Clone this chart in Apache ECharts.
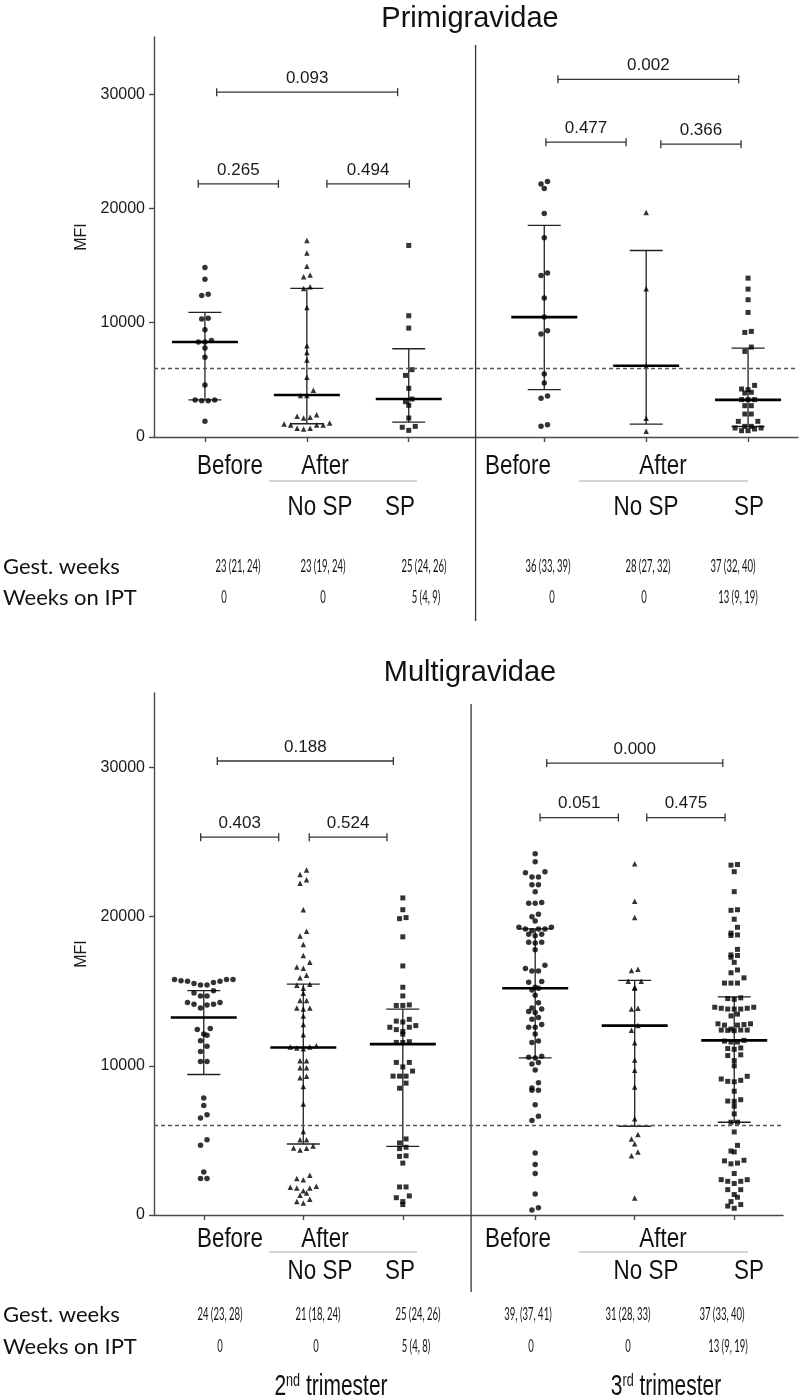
<!DOCTYPE html>
<html><head><meta charset="utf-8">
<script src="https://cdn.jsdelivr.net/npm/echarts@6/dist/echarts.min.js"></script>
<style>html,body{margin:0;padding:0;background:#fff}#c{width:800px;height:1400px}</style>
</head><body><div id="c"></div>
<script>
// ---------------- DATA ----------------
const GROUP_X = [1, 2, 3, 4.33, 5.33, 6.33];
const Y_TICKS = [0, 10000, 20000, 30000];
const THRESHOLD = 6000;

// Primigravidae (MFI values)
const primi_2nd_before = [14840, 13800, 12500, 12390, 10380, 10320, 9390, 8450, 8310, 8310, 7780, 6970, 4550, 3240, 3240, 3180, 3180, 1370];
const primi_2nd_nosp = [17200, 16090, 14950, 14170, 14020, 13150, 13000, 11340, 7990, 7400, 6730, 5220, 4080, 3640, 3640, 1950, 1810, 1720, 1660, 1220, 1140, 1050, 1050, 1050, 760, 760, 700];
const primi_2nd_sp = [16760, 10610, 9530, 5890, 5390, 4260, 3320, 3090, 2770, 1660, 930, 850, 580];
const primi_3rd_before = [22360, 22130, 21750, 19560, 17430, 14340, 14140, 12160, 10490, 9300, 9010, 5510, 4720, 3590, 3380, 1080, 930];
const primi_3rd_nosp = [19650, 12970, 6180, 1630, 500];
const primi_3rd_sp = [13900, 12940, 12010, 10900, 9240, 9150, 7870, 7490, 4520, 4200, 4140, 3910, 3850, 3270, 3270, 3270, 2740, 2740, 2010, 2010, 1370, 1370, 930, 930, 790, 790, 700, 550, 550];
const primi_median = [8310, 3670, 3320, 10490, 6240, 3250];
const primi_upper = [10900, 13000, 7720, 18510, 16320, 7780];
const primi_lower = [3240, 1160, 1300, 4140, 1120, 920];
const primi_br_x1 = [1.115, 0.934, 2.197, 4.464, 4.346, 5.474];
const primi_br_x2 = [2.891, 1.721, 3.006, 6.238, 5.133, 6.261];
const primi_br_y = [30170, 22150, 22150, 31300, 25800, 25620];
const primi_br_p = ['0.093', '0.265', '0.494', '0.002', '0.477', '0.366'];
const primi_gest = ['23 (21, 24)', '23 (19, 24)', '25 (24, 26)', '36 (33, 39)', '28 (27, 32)', '37 (32, 40)'];
const primi_ipt = ['0', '0', '5 (4, 9)', '0', '0', '13 (9, 19)'];

// Multigravidae (MFI values)
const multi_2nd_before = [15790, 15790, 15790, 15700, 15670, 15670, 15590, 15520, 15420, 15420, 15030, 14880, 14690, 14690, 14250, 14250, 14130, 14130, 14080, 13880, 12500, 12440, 12130, 12060, 11690, 11320, 10960, 10300, 10300, 7850, 7340, 6730, 6510, 5050, 4670, 2880, 2440, 2440];
const multi_2nd_nosp = [23130, 22830, 22480, 22250, 20470, 19020, 18710, 18140, 17400, 16940, 16630, 16540, 16080, 15900, 15480, 15400, 15200, 14860, 14390, 14390, 13880, 13880, 13810, 13350, 12770, 12080, 11340, 11270, 11270, 11200, 11150, 10350, 10350, 9880, 9880, 9300, 9200, 8610, 7450, 5600, 5050, 5050, 4630, 4500, 4480, 4350, 2660, 2440, 2370, 1930, 1860, 1810, 1810, 1630, 1480, 1320, 1050, 900, 800];
const multi_2nd_sp = [21260, 20470, 19940, 19870, 18650, 16700, 15270, 14690, 14090, 14050, 14050, 13120, 13000, 12940, 12700, 12590, 12590, 12430, 12310, 12130, 11620, 11570, 11570, 10230, 10230, 9930, 9650, 9310, 9310, 9310, 8840, 8500, 5100, 4830, 4540, 4450, 3970, 3930, 3480, 1880, 1880, 1280, 1160, 900, 700];
const multi_3rd_before = [24220, 23690, 23020, 22950, 22670, 22670, 22140, 22140, 21680, 20960, 20910, 20910, 20170, 19990, 19710, 19290, 19290, 19180, 19180, 19180, 19060, 18830, 18830, 18720, 18280, 18280, 18240, 17790, 16750, 16520, 16360, 16360, 15660, 15600, 15270, 15200, 15090, 14740, 14230, 13880, 13810, 13650, 13580, 13240, 13120, 12770, 12590, 12590, 12130, 11660, 11570, 10650, 10580, 10530, 10230, 10120, 9720, 8870, 8520, 8360, 8360, 7400, 6620, 6330, 4160, 3380, 2780, 1410, 480, 330];
const multi_3rd_nosp = [23550, 21030, 19940, 16470, 16400, 15670, 15670, 15270, 15200, 13860, 13810, 12700, 12380, 11550, 10390, 9700, 8590, 6460, 5390, 5100, 4780, 4220, 3980, 1140];
const multi_3rd_sp = [23500, 23460, 23020, 21680, 20470, 20430, 19830, 19290, 18900, 18780, 18740, 17810, 17440, 17400, 17280, 16940, 16430, 16240, 15900, 15550, 15550, 15550, 14560, 14510, 14460, 13930, 13930, 13860, 13860, 13810, 13810, 13810, 13470, 13350, 12820, 12820, 12770, 12730, 12730, 12470, 12400, 12400, 12400, 12380, 12360, 11710, 11660, 11600, 11600, 11200, 11160, 11110, 10740, 10690, 10350, 10000, 9300, 9120, 9030, 8960, 8930, 8300, 7730, 7640, 7620, 7290, 6780, 6220, 6220, 5570, 4670, 4290, 4230, 3670, 3630, 3480, 3430, 2780, 2370, 2370, 2260, 2260, 2110, 1700, 1700, 1370, 1190, 900, 700, 600, 450];
const multi_median = [13240, 11230, 11460, 15200, 12700, 11710];
const multi_upper = [15040, 15480, 13810, 19180, 15730, 14620];
const multi_lower = [9420, 4760, 4600, 10530, 5950, 6220];
const multi_br_x1 = [1.136, 0.969, 2.060, 4.446, 4.379, 5.451];
const multi_br_x2 = [2.905, 1.753, 2.841, 6.215, 5.166, 6.238];
const multi_br_y = [30440, 25330, 25330, 30300, 26650, 26650];
const multi_br_p = ['0.188', '0.403', '0.524', '0.000', '0.051', '0.475'];
const multi_gest = ['24 (23, 28)', '21 (18, 24)', '25 (24, 26)', '39, (37, 41)', '31 (28, 33)', '37 (33, 40)'];
const multi_ipt = ['0', '0', '5 (4, 8)', '0', '0', '13 (9, 19)'];

const TITLES = ['Primigravidae', 'Multigravidae'];
const ROW_LABELS = ['Gest. weeks', 'Weeks on IPT'];
const WHEN_LABELS = ['Before', 'After'];
const ARM_LABELS = ['No SP', 'SP'];
const TRIMESTERS = [['2', 'nd'], ['3', 'rd']];
const Y_NAME = 'MFI';

// ---------------- LAYOUT / STYLE ----------------
const X_MIN = 0.5, X_MAX = 6.82, Y_MAX = 35000;
const ARIAL = '"Liberation Sans", Arial, sans-serif';
const CALI = 'Lato, "Open Sans", sans-serif';
const SYMBOLS = ['circle', 'triangle', 'rect'];
const SYMBOL_SIZE = [5.5, 5.5, 5];
const GAP_PX = 6.5, ROW_PX = 6;

const PANELS = [
  { grid: {left: 154, top: 37, width: 644, height: 400},
    sets: [primi_2nd_before, primi_2nd_nosp, primi_2nd_sp, primi_3rd_before, primi_3rd_nosp, primi_3rd_sp],
    median: primi_median, upper: primi_upper, lower: primi_lower,
    br: [primi_br_x1, primi_br_x2, primi_br_y, primi_br_p],
    gest: primi_gest, ipt: primi_ipt,
    divX: 3.656, divTop: 8, divBottom: 184,
    titleY: 19, lab1Y: 467, lineY: 481, lab2Y: 508, gestY: 567, iptY: 598,
    gestX: [238, 323, 424, 548, 648, 733], iptX: [224, 323, 426, 552, 644, 738] },
  { grid: {left: 154, top: 693, width: 629, height: 522},
    sets: [multi_2nd_before, multi_2nd_nosp, multi_2nd_sp, multi_3rd_before, multi_3rd_nosp, multi_3rd_sp],
    median: multi_median, upper: multi_upper, lower: multi_lower,
    br: [multi_br_x1, multi_br_x2, multi_br_y, multi_br_p],
    gest: multi_gest, ipt: multi_ipt,
    divX: 3.686, divTop: 11, divBottom: 77,
    titleY: 673, lab1Y: 1240, lineY: 1252, lab2Y: 1272, gestY: 1315, iptY: 1347,
    gestX: [220, 318, 418, 528, 628, 722], iptX: [220, 316, 416, 531, 628, 728] }
];

// Prism-like scatter: rows of close values spread symmetrically
function swarm(values, gx, pxPerVal, pxPerX) {
  const sorted = values.slice().sort((a, b) => b - a);
  const rows = []; let cur = null;
  sorted.forEach(v => {
    if (cur && (cur.top - v) * pxPerVal < ROW_PX) cur.vals.push(v);
    else { cur = {top: v, vals: [v]}; rows.push(cur); }
  });
  const out = [];
  rows.forEach(r => {
    const vals = r.vals.slice().sort((a, b) => a - b);
    const n = vals.length, slots = [];
    for (let i = 0; i < n; i++) slots.push(i - (n - 1) / 2);
    slots.sort((a, b) => Math.abs(a) - Math.abs(b) || a - b);
    vals.forEach((v, i) => out.push([gx + slots[i] * GAP_PX / pxPerX, v]));
  });
  return out;
}

const grids = [], xAxes = [], yAxes = [], series = [], graphics = [];
const AXIS_COLOR = '#4a4a4a';

PANELS.forEach((P, pi) => {
  grids.push(P.grid);
  const pxPerVal = P.grid.height / Y_MAX;
  const pxPerX = P.grid.width / (X_MAX - X_MIN);
  xAxes.push({
    type: 'value', gridIndex: pi, min: X_MIN, max: X_MAX,
    axisLine: {show: true, onZero: false, lineStyle: {color: AXIS_COLOR, width: 1.4}},
    axisTick: {show: true, customValues: GROUP_X, length: 5, lineStyle: {color: AXIS_COLOR, width: 1.4}},
    axisLabel: {show: false}, splitLine: {show: false}
  });
  yAxes.push({
    type: 'value', gridIndex: pi, min: 0, max: Y_MAX, interval: 10000,
    name: Y_NAME, nameLocation: 'middle', nameGap: 57,
    nameTextStyle: {fontSize: 16, fontFamily: ARIAL, color: '#1a1a1a'},
    axisLine: {show: true, lineStyle: {color: AXIS_COLOR, width: 1.4}},
    axisTick: {show: true, customValues: Y_TICKS, length: 5, lineStyle: {color: AXIS_COLOR, width: 1.4}},
    axisLabel: {customValues: Y_TICKS, fontSize: 16, fontFamily: ARIAL, color: '#1a1a1a', margin: 9,
      formatter: v => String(v)},
    splitLine: {show: false}
  });

  // scatter points
  P.sets.forEach((vals, gi) => {
    const s = {
      type: 'scatter', xAxisIndex: pi, yAxisIndex: pi, z: 4,
      symbol: SYMBOLS[gi % 3], symbolSize: SYMBOL_SIZE[gi % 3],
      itemStyle: {color: '#000'}, silent: true,
      data: swarm(vals, GROUP_X[gi], pxPerVal, pxPerX)
    };
    if (gi === 0) {
      s.markLine = {silent: true, symbol: 'none', label: {show: false},
        lineStyle: {type: [4, 3], color: '#555', width: 1.3}, data: [{yAxis: THRESHOLD}]};
    }
    series.push(s);
  });

  // median + error bars
  series.push({
    type: 'custom', xAxisIndex: pi, yAxisIndex: pi, z: 3, silent: true,
    data: GROUP_X.map((x, i) => [x, P.median[i], P.lower[i], P.upper[i]]),
    renderItem: (params, api) => {
      const x = api.value(0);
      const pm = api.coord([x, api.value(1)]);
      const pl = api.coord([x, api.value(2)]);
      const pu = api.coord([x, api.value(3)]);
      const thin = {stroke: '#222', lineWidth: 1.3};
      return {type: 'group', children: [
        {type: 'line', shape: {x1: pl[0], y1: pl[1], x2: pu[0], y2: pu[1]}, style: thin},
        {type: 'line', shape: {x1: pl[0] - 16.5, y1: pl[1], x2: pl[0] + 16.5, y2: pl[1]}, style: thin},
        {type: 'line', shape: {x1: pu[0] - 16.5, y1: pu[1], x2: pu[0] + 16.5, y2: pu[1]}, style: thin},
        {type: 'line', shape: {x1: pm[0] - 33, y1: pm[1], x2: pm[0] + 33, y2: pm[1]}, style: {stroke: '#000', lineWidth: 2.6}}
      ]};
    }
  });

  // significance brackets
  const [bx1, bx2, by, bp] = P.br;
  series.push({
    type: 'custom', xAxisIndex: pi, yAxisIndex: pi, z: 3, silent: true,
    data: bx1.map((_, i) => [bx1[i], by[i], bx2[i]]),
    renderItem: (params, api) => {
      const a = api.coord([api.value(0), api.value(1)]);
      const b = api.coord([api.value(2), api.value(1)]);
      const st = {stroke: '#333', lineWidth: 1.3};
      return {type: 'group', children: [
        {type: 'line', shape: {x1: a[0], y1: a[1], x2: b[0], y2: b[1]}, style: st},
        {type: 'line', shape: {x1: a[0], y1: a[1] - 4, x2: a[0], y2: a[1] + 4}, style: st},
        {type: 'line', shape: {x1: b[0], y1: b[1] - 4, x2: b[0], y2: b[1] + 4}, style: st},
        {type: 'text', style: {text: bp[params.dataIndex], x: (a[0] + b[0]) / 2, y: a[1] - 14,
          textAlign: 'center', textVerticalAlign: 'middle', font: '17px ' + ARIAL, fill: '#1a1a1a'}}
      ]};
    }
  });

  // trimester divider
  series.push({
    type: 'custom', xAxisIndex: pi, yAxisIndex: pi, z: 3, silent: true, clip: false,
    data: [[P.divX, 0]],
    renderItem: (params, api) => {
      const t = api.coord([api.value(0), Y_MAX]);
      const b = api.coord([api.value(0), 0]);
      return {type: 'line', shape: {x1: t[0], y1: t[1] + P.divTop, x2: b[0], y2: b[1] + P.divBottom},
        style: {stroke: '#333', lineWidth: 1.3}};
    }
  });

  // texts
  const T = (x, y, text, font, extra) => graphics.push(Object.assign({type: 'text', x: x, y: y, silent: true,
    style: {text: text, font: font, fill: '#111', textAlign: 'center', textVerticalAlign: 'middle'}}, extra || {}));
  T(470, P.titleY, TITLES[pi], '29px ' + ARIAL);
  const LAB = '27px ' + ARIAL;
  const sc = {scaleX: 0.83};
  T(230, P.lab1Y, WHEN_LABELS[0], LAB, sc);
  T(325, P.lab1Y, WHEN_LABELS[1], LAB, sc);
  T(320, P.lab2Y, ARM_LABELS[0], LAB, sc);
  T(400, P.lab2Y, ARM_LABELS[1], LAB, sc);
  T(518, P.lab1Y, WHEN_LABELS[0], LAB, sc);
  T(663, P.lab1Y, WHEN_LABELS[1], LAB, sc);
  T(646, P.lab2Y, ARM_LABELS[0], LAB, sc);
  T(749, P.lab2Y, ARM_LABELS[1], LAB, sc);
  graphics.push({type: 'line', silent: true, shape: {x1: 269, y1: P.lineY, x2: 417, y2: P.lineY}, style: {stroke: '#aaa', lineWidth: 1.2}});
  graphics.push({type: 'line', silent: true, shape: {x1: 579, y1: P.lineY, x2: 748, y2: P.lineY}, style: {stroke: '#aaa', lineWidth: 1.2}});
  graphics.push({type: 'text', x: 3, y: P.gestY, silent: true, style: {text: ROW_LABELS[0], font: '22px ' + CALI, fill: '#111', textAlign: 'left', textVerticalAlign: 'middle'}});
  graphics.push({type: 'text', x: 3, y: P.iptY, silent: true, style: {text: ROW_LABELS[1], font: '22px ' + CALI, fill: '#111', textAlign: 'left', textVerticalAlign: 'middle'}});
  const NUM = '17px ' + CALI;
  P.gest.forEach((t, i) => T(P.gestX[i], P.gestY, t, NUM, {scaleX: 0.56}));
  P.ipt.forEach((t, i) => T(P.iptX[i], P.iptY, t, NUM, {scaleX: 0.56}));
});

// trimester captions
TRIMESTERS.forEach((tr, i) => {
  graphics.push({type: 'text', x: [331, 666][i], y: 1387, scaleX: 0.7, silent: true,
    style: {text: '{a|' + tr[0] + '}{b|' + tr[1] + '}{a| trimester}', textAlign: 'center', textVerticalAlign: 'middle', fill: '#111',
      rich: {a: {fontSize: 30, fontFamily: ARIAL, fill: '#111', color: '#111'},
             b: {fontSize: 18, fontFamily: ARIAL, fill: '#111', color: '#111', verticalAlign: 'top'}}}});
});

const chart = echarts.init(document.getElementById('c'), null, {renderer: 'canvas'});
chart.setOption({
  animation: false, backgroundColor: '#fff',
  grid: grids, xAxis: xAxes, yAxis: yAxes, series: series, graphic: graphics
});
</script>
</body></html>
